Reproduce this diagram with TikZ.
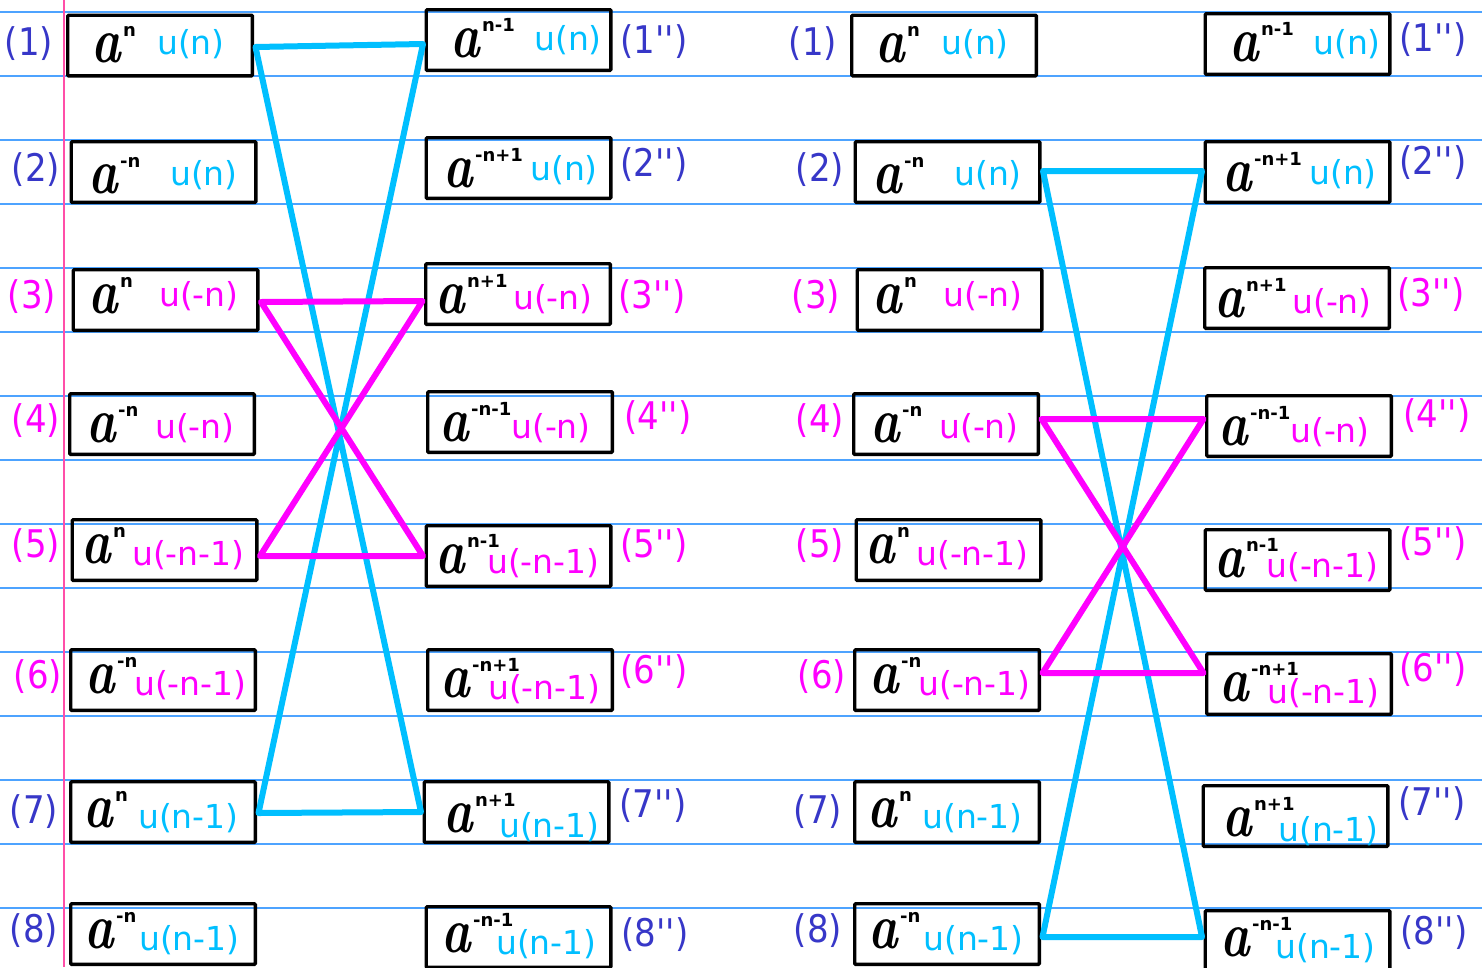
\documentclass[tikz,border=0pt]{standalone}
\usepackage{fontspec}
\usepackage{graphicx}
\usetikzlibrary{calc}
\newfontfamily\dvs{DejaVu Sans}
\font\lblraw="DejaVu Sans" at 34pt
\definecolor{rulec}{HTML}{4DA3FF}
\definecolor{marginc}{HTML}{FF4FA8}
\definecolor{cy}{HTML}{00BFFF}
\definecolor{mg}{HTML}{FF00FF}
\definecolor{lb}{HTML}{3737C8}
\tikzset{
  bx/.style={draw=black, line width=3.4pt, minimum width=184.6pt, minimum height=60.6pt, inner sep=0pt, rounded corners=1pt},
  atxt/.style={anchor=base west, inner sep=0pt, font=\bfseries\itshape\fontsize{64}{64}\selectfont},
  suptxt/.style={anchor=base west, inner sep=0pt, font=\dvs\bfseries\fontsize{18}{18}\selectfont},
  utxt/.style={anchor=base west, inner sep=0pt, font=\dvs\fontsize{33}{33}\selectfont},
  lbl/.style={inner sep=0pt, font=\lblraw},
  rulel/.style={draw=rulec, line width=1.2pt},
  cyl/.style={draw=cy, line width=6pt, line join=round},
  mgl/.style={draw=mg, line width=6pt, line join=round}
}
\newcommand\Lt[1]{\scalebox{1}[1.12]{#1}}
\newcommand\cell[7]{%
  \node[bx] (#1) at (#2) {};
  \node[atxt] (#1a) at (#3) {\scalebox{0.78}[1]{a}};
  \node[suptxt] (#1s) at ([xshift=2pt,yshift=26pt]#1a.base east) {#4};
  \node[utxt,text=#6] (#1u) at (#5) {#7};
}
\newcommand\colone[1]{%
  \cell{#11}{160,45.5}{91,62}{n}{157,54}{cy}{u(n)}
  \cell{#12}{163.5,172}{88,193}{-n}{170,185}{cy}{u(n)}
  \cell{#13}{165.5,300}{88,313}{n}{159,306}{mg}{u(-n)}
  \cell{#14}{162,424}{86,442}{-n}{155,438}{mg}{u(-n)}
  \cell{#15}{164.5,550}{81,563}{n}{132,565}{mg}{u(-n-1)}
  \cell{#16}{163,680}{85,693}{-n}{134,695}{mg}{u(-n-1)}
  \cell{#17}{163,812}{83,827}{n}{138,828}{cy}{u(n-1)}
  \cell{#18}{163,934}{84,948}{-n}{139,950}{cy}{u(n-1)}
}
\newcommand\coltwo[1]{%
  \cell{#11}{518.5,40}{450,57}{n-1}{534,50}{cy}{u(n)}
  \cell{#12}{518.5,168}{443,187}{-n+1}{530,180}{cy}{u(n)}
  \cell{#13}{518,294}{435,313}{n+1}{513,309}{mg}{u(-n)}
  \cell{#14}{520,422}{439,441}{-n-1}{511,438}{mg}{u(-n)}
  \cell{#15}{518.5,556}{435,573}{n-1}{487,573}{mg}{u(-n-1)}
  \cell{#16}{520,680}{440,697}{-n+1}{488,699}{mg}{u(-n-1)}
  \cell{#17}{516.5,812}{443,832}{n+1}{499,837}{cy}{u(n-1)}
  \cell{#18}{518.5,937}{441,952}{-n-1}{496,954}{cy}{u(n-1)}
}
\newcommand\lblone[1]{%
  \node[lbl,text=lb] (#1l1) at (29,44) {\Lt{(1)}};
  \node[lbl,text=lb] (#1l2) at (36,170) {\Lt{(2)}};
  \node[lbl,text=mg] (#1l3) at (32,297) {\Lt{(3)}};
  \node[lbl,text=mg] (#1l4) at (36,421) {\Lt{(4)}};
  \node[lbl,text=mg] (#1l5) at (36,546) {\Lt{(5)}};
  \node[lbl,text=mg] (#1l6) at (38,677) {\Lt{(6)}};
  \node[lbl,text=lb] (#1l7) at (34,812) {\Lt{(7)}};
  \node[lbl,text=lb] (#1l8) at (34,931) {\Lt{(8)}};
}
\newcommand\lbltwo[1]{%
  \node[lbl,text=lb] (#1l1) at (654,42) {\Lt{(1'')}};
  \node[lbl,text=lb] (#1l2) at (654,165) {\Lt{(2'')}};
  \node[lbl,text=mg] (#1l3) at (652,297) {\Lt{(3'')}};
  \node[lbl,text=mg] (#1l4) at (658,418) {\Lt{(4'')}};
  \node[lbl,text=mg] (#1l5) at (654,546) {\Lt{(5'')}};
  \node[lbl,text=mg] (#1l6) at (654,672) {\Lt{(6'')}};
  \node[lbl,text=lb] (#1l7) at (653,806) {\Lt{(7'')}};
  \node[lbl,text=lb] (#1l8) at (655,935) {\Lt{(8'')}};
}
\begin{document}
\begin{tikzpicture}[x=1pt,y=-1pt]
\useasboundingbox (0,0) rectangle (1482,967);
\fill[white] (0,0) rectangle (1482,967);
% ruled paper
\foreach \k in {0,...,14} \draw[rulel] (0,12+64*\k) -- (1482,12+64*\k);
\draw[draw=marginc, line width=1.5pt] (64,0) -- (64,967);
% boxes
\colone{a}
\coltwo{b}
\lblone{la}
\lbltwo{lb}
\begin{scope}[shift={(784,0)}]
  \colone{c}
  \lblone{lc}
\end{scope}
\begin{scope}[shift={(779,4)}]
  \coltwo{d}
\end{scope}
\begin{scope}[shift={(779,-2)}]
  \lbltwo{ld}
\end{scope}
% connector end points
\coordinate (pA) at ([xshift=1.5pt,yshift=-1.5pt]a1.east);
\coordinate (pB) at ([xshift=-1.5pt,yshift=-4pt]b1.west);
\coordinate (pC) at ([xshift=1.5pt,yshift=-1pt]a7.east);
\coordinate (pD) at ([xshift=-1.5pt]b7.west);
\coordinate (pE) at ([xshift=1.5pt,yshift=-2pt]a3.east);
\coordinate (pF) at ([xshift=-1.5pt,yshift=-7pt]b3.west);
\coordinate (pG) at ([xshift=1.5pt,yshift=-6pt]a5.east);
\coordinate (pH) at ([xshift=-1.5pt]b5.west);
\coordinate (pI) at ([xshift=1.5pt,yshift=1pt]c2.east);
\coordinate (pJ) at ([xshift=-1.5pt,yshift=1pt]d2.west);
\coordinate (pK) at ([xshift=1.5pt,yshift=-3pt]c8.east);
\coordinate (pL) at ([xshift=-1.5pt,yshift=4pt]d8.west);
\coordinate (pM) at ([xshift=1.5pt,yshift=5pt]c4.east);
\coordinate (pN) at ([xshift=-1.5pt,yshift=7pt]d4.west);
\coordinate (pO) at ([xshift=1.5pt,yshift=7pt]c6.east);
\coordinate (pP) at ([xshift=-1.5pt,yshift=11pt]d6.west);
% connectors
\draw[cyl] (pA) -- (pB) -- (pC) -- (pD) -- cycle;
\draw[cyl] (pI) -- (pJ) -- (pK) -- (pL) -- cycle;
\draw[mgl] (pE) -- (pF) -- (pG) -- (pH) -- cycle;
\draw[mgl] (pM) -- (pN) -- (pO) -- (pP) -- cycle;
\end{tikzpicture}
\end{document}
